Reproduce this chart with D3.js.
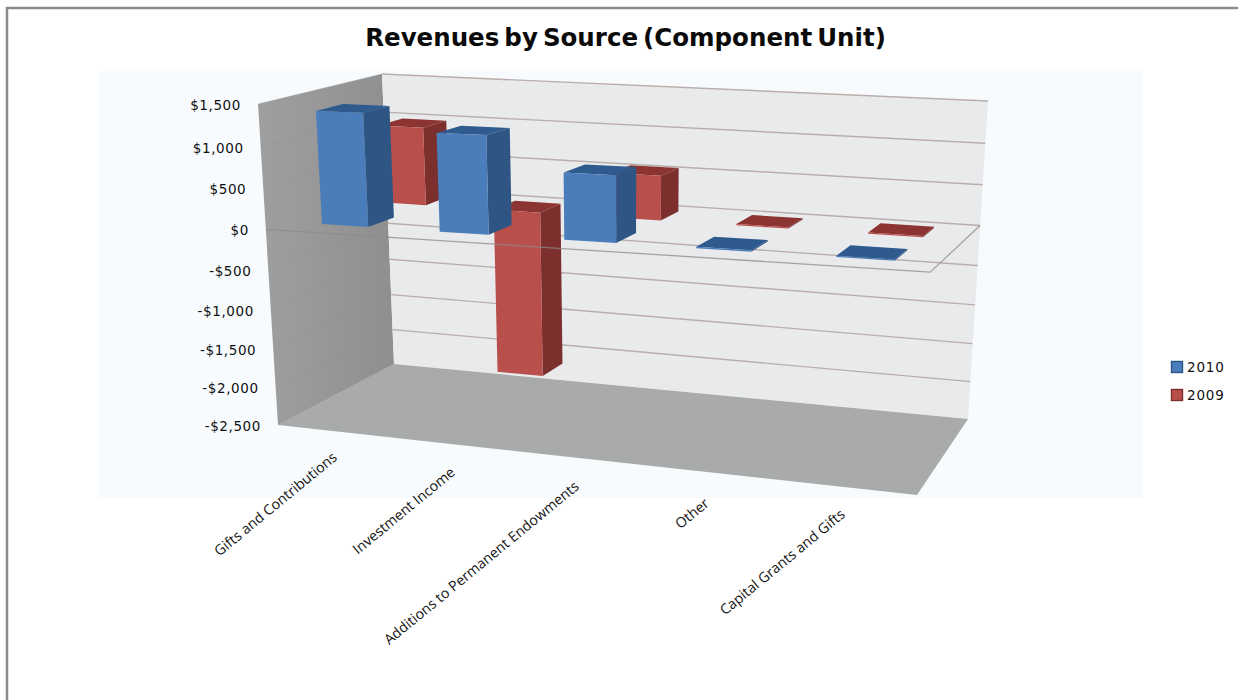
<!DOCTYPE html>
<html>
<head>
<meta charset="utf-8">
<script src="https://cdnjs.cloudflare.com/ajax/libs/d3/7.8.5/d3.min.js"></script>
<style>
html,body{margin:0;padding:0;background:#fff}
svg{display:block}
</style>
</head>
<body>
<svg id="chart" width="1238" height="700"></svg>
<script>
// Chart values
const categories = ["Gifts and Contributions", "Investment Income", "Additions to Permanent Endowments", "Other", "Capital Grants and Gifts"];
const seriesNames = ["2010", "2009"];
const values2010 = [1370, 1170, 780, 15, 15];
const values2009 = [990, -2150, 550, 15, 15];
const valueTicks = [1500, 1000, 500, 0, -500, -1000, -1500, -2000, -2500];
const tickFormat = v => (v < 0 ? "-$" : "$") + d3.format(",")(Math.abs(v));

// Logical axes of the plot box: x across categories, y by value, z into the page
const xBand = d3.scaleBand().domain(categories).range([0, 1]).paddingInner(0.6).paddingOuter(0.3);
const zBand = d3.scaleBand().domain(seriesNames).range([0.0225, 1.0225]).paddingInner(0.57).paddingOuter(0.285);
const yNorm = d3.scaleLinear().domain([-2500, 1500]).range([0, 1]);

// Camera calibration: box positions (x, value, z) and the screen point each lands on
const calibration = [
  [0, 1500, 0, 258, 104], [0, -2500, 0, 278, 425],
  [0, 1500, 1, 382, 74],  [0, -2500, 1, 394, 364],
  [1, 1500, 1, 988, 101], [1, -2500, 1, 968, 419],
  [1, -2500, 0, 917, 495], [0, 0, 0, 273, 228],
  [1, 0, 0, 927, 277], [1, 0, 1, 979, 223], [0, 0, 1, 388, 222]
];

function solveCamera(rows) {
  const A = [], b = [];
  rows.forEach(([x, val, z, u, v]) => {
    const y = yNorm(val);
    A.push([x, y, z, 1, 0, 0, 0, 0, -u * x, -u * y, -u * z]); b.push(u);
    A.push([0, 0, 0, 0, x, y, z, 1, -v * x, -v * y, -v * z]); b.push(v);
  });
  const n = 11;
  const M = d3.range(n).map(i => {
    const row = d3.range(n).map(j => d3.sum(A, r => r[i] * r[j]));
    row.push(d3.sum(A, (r, k) => r[i] * b[k]));
    return row;
  });
  for (let c = 0; c < n; c++) {
    let p = c;
    for (let r = c + 1; r < n; r++) if (Math.abs(M[r][c]) > Math.abs(M[p][c])) p = r;
    [M[c], M[p]] = [M[p], M[c]];
    for (let r = 0; r < n; r++) {
      if (r === c) continue;
      const f = M[r][c] / M[c][c];
      for (let k = c; k <= n; k++) M[r][k] -= f * M[c][k];
    }
  }
  return M.map((row, i) => row[n] / row[i]);
}
const cam = solveCamera(calibration);

// Pure perspective projection of a box position
function perspective(x, y, z) {
  const w = cam[8] * x + cam[9] * y + cam[10] * z + 1;
  return [(cam[0] * x + cam[1] * y + cam[2] * z + cam[3]) / w,
          (cam[4] * x + cam[5] * y + cam[6] * z + cam[7]) / w];
}

// What the least-squares camera leaves over at the box corners, blended back in trilinearly
const cornerOffsets = calibration
  .filter(r => r[1] === 1500 || r[1] === -2500)
  .map(([x, val, z, u, v]) => {
    const p = perspective(x, yNorm(val), z);
    return { x, y: yNorm(val), z, du: u - p[0], dv: v - p[1] };
  });

function project(x, val, z) {
  const y = yNorm(val);
  const p = perspective(x, y, z);
  cornerOffsets.forEach(c => {
    const k = (c.x ? x : 1 - x) * (c.y ? y : 1 - y) * (c.z ? z : 1 - z);
    p[0] += k * c.du;
    p[1] += k * c.dv;
  });
  return p;
}

const svg = d3.select("#chart");
const line = d3.line();
const closed = pts => line(pts) + "Z";
const yMin = d3.min(valueTicks), yMax = d3.max(valueTicks);

const defs = svg.append("defs");
const wallGrad = defs.append("linearGradient").attr("id", "wallGrad").attr("x1", 0).attr("x2", 1).attr("y1", 0).attr("y2", 0);
wallGrad.append("stop").attr("offset", "0%").attr("stop-color", "#9f9f9f");
wallGrad.append("stop").attr("offset", "100%").attr("stop-color", "#8f8f8f");

// Outer frame and tinted plot region
svg.append("path").attr("d", "M7,700V8H1238").attr("fill", "none").attr("stroke", "#8a8a8a").attr("stroke-width", 2.5);
svg.append("rect").attr("x", 99).attr("y", 71).attr("width", 1044).attr("height", 427).attr("fill", "#f7fbfe");

// Title
svg.append("text").attr("x", 625.5).attr("y", 46).attr("text-anchor", "middle")
  .attr("font-family", "'DejaVu Sans', sans-serif").attr("font-weight", 700).attr("font-size", 24.5)
  .attr("word-spacing", -3.5).attr("fill", "#0a0a0a").text("Revenues by Source (Component Unit)");

// Walls and floor
svg.append("path").attr("fill", "url(#wallGrad)")
  .attr("d", closed([project(0, yMax, 0), project(0, yMax, 1), project(0, yMin, 1), project(0, yMin, 0)]));
svg.append("path").attr("fill", "#e9eaec")
  .attr("d", closed([project(0, yMax, 1), project(1, yMax, 1), project(1, yMin, 1), project(0, yMin, 1)]));
svg.append("path").attr("fill", "#a9abab")
  .attr("d", closed([project(0, yMin, 0), project(0, yMin, 1), project(1, yMin, 1), project(1, yMin, 0)]));

// Gridlines across both walls
const grid = svg.append("g");
grid.selectAll("path.back").data(valueTicks.filter(v => v !== yMin)).join("path").attr("class", "back")
  .attr("fill", "none").attr("stroke", "#b9aeab").attr("stroke-width", 1.4)
  .attr("d", v => line([project(0, v, 1), project(1, v, 1)]));
grid.selectAll("path.side").data(valueTicks.filter(v => v !== 0)).join("path").attr("class", "side")
  .attr("fill", "none").attr("stroke", "#8a8a8a").attr("stroke-opacity", 0.3).attr("stroke-width", 1)
  .attr("d", v => line([project(0, v, 0), project(0, v, 1)]));

// Value labels along the front edge of the side wall
svg.append("g").selectAll("text").data(valueTicks).join("text")
  .attr("x", v => project(0, v, 0)[0] - 17)
  .attr("y", v => project(0, v, 0)[1] + 6)
  .attr("text-anchor", "end")
  .attr("font-family", "'DejaVu Sans', sans-serif").attr("font-size", 13.5).attr("letter-spacing", 0.6).attr("fill", "#111")
  .text(tickFormat);

// Column colours by series: front, side and top faces
const faces = {
  "2010": { front: "#4b7dba", side: "#2f5584", top: "#2e5a8e" },
  "2009": { front: "#b94f4b", side: "#7c2f2d", top: "#8c3431" }
};
const columns = [];
seriesNames.slice().reverse().forEach(s => {
  const vals = s === "2010" ? values2010 : values2009;
  categories.forEach((c, i) => columns.push({ series: s, category: c, value: vals[i] }));
});

// Back series first so the front series overlaps it
const bars = svg.append("g").selectAll("g").data(columns).join("g");
const box = d => {
  const x0 = xBand(d.category), x1 = x0 + xBand.bandwidth();
  const z0 = zBand(d.series), z1 = z0 + zBand.bandwidth();
  return { x0, x1, z0, z1, lo: Math.min(0, d.value), hi: Math.max(0, d.value) };
};
bars.append("path").attr("fill", d => faces[d.series].side).attr("d", d => {
  const b = box(d);
  return closed([project(b.x1, b.hi, b.z0), project(b.x1, b.hi, b.z1), project(b.x1, b.lo, b.z1), project(b.x1, b.lo, b.z0)]);
});
bars.append("path").attr("fill", d => faces[d.series].top).attr("d", d => {
  const b = box(d);
  return closed([project(b.x0, b.hi, b.z0), project(b.x0, b.hi, b.z1), project(b.x1, b.hi, b.z1), project(b.x1, b.hi, b.z0)]);
});
bars.append("path").attr("fill", d => faces[d.series].front).attr("d", d => {
  const b = box(d);
  return closed([project(b.x0, b.hi, b.z0), project(b.x1, b.hi, b.z0), project(b.x1, b.lo, b.z0), project(b.x0, b.lo, b.z0)]);
});

// Outline of the zero plane
svg.append("path").attr("fill", "none").attr("stroke", "#8f8a88").attr("stroke-opacity", 0.75).attr("stroke-width", 1.3)
  .attr("d", line([project(0, 0, 0), project(1, 0, 0), project(1, 0, 1)]));

// Rotated category labels below the floor edge
const labelAnchor = [[338, 459], [456, 474], [580, 488], [710, 505], [846, 516]];
svg.append("g").selectAll("text").data(categories).join("text")
  .attr("transform", (c, i) => `translate(${labelAnchor[i][0]},${labelAnchor[i][1]}) rotate(-39.5)`)
  .attr("text-anchor", "end")
  .attr("font-family", "'Open Sans', sans-serif").attr("font-size", 14.2).attr("fill", "#111")
  .text(c => c);

// Legend
const legend = svg.append("g").selectAll("g").data(seriesNames).join("g")
  .attr("transform", (s, i) => `translate(1171,${361 + i * 28})`);
legend.append("rect").attr("x", 0.5).attr("y", 0.5).attr("width", 11).attr("height", 11)
  .attr("fill", s => faces[s].front).attr("stroke", s => faces[s].side).attr("stroke-width", 1.4);
legend.append("text").attr("x", 16).attr("y", 11)
  .attr("font-family", "'DejaVu Sans', sans-serif").attr("font-size", 13.5).attr("letter-spacing", 0.8).attr("fill", "#111")
  .text(s => s);
</script>
</body>
</html>
